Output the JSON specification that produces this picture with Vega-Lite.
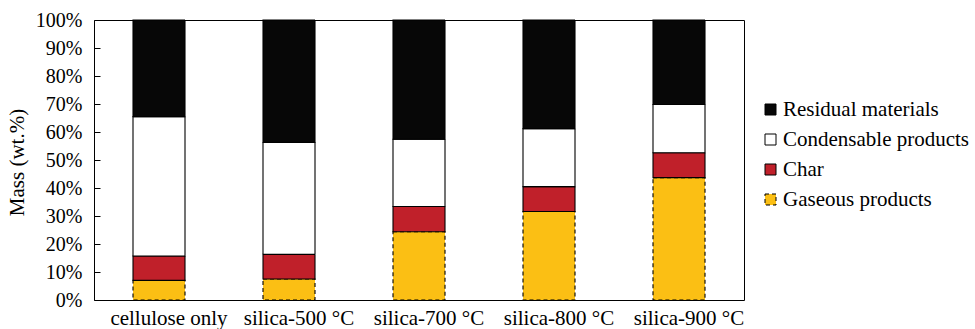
{
  "$schema": "https://vega.github.io/schema/vega-lite/v6.json",
  "width": 650,
  "height": 280,
  "autosize": {"type": "none"},
  "padding": {"left": 94, "top": 20, "right": 231, "bottom": 29},
  "background": "white",
  "config": {
    "view": {"stroke": "black", "strokeWidth": 1},
    "font": "Liberation Serif, Times New Roman, serif",
    "axis": {"labelFont": "Liberation Serif, Times New Roman, serif", "titleFont": "Liberation Serif, Times New Roman, serif"},
    "legend": {"labelFont": "Liberation Serif, Times New Roman, serif"}
  },
  "data": {
    "values": [
      {"sample": "cellulose only", "component": "Gaseous products", "mass": 7.0},
      {"sample": "cellulose only", "component": "Char", "mass": 8.7},
      {"sample": "cellulose only", "component": "Condensable products", "mass": 49.8},
      {"sample": "cellulose only", "component": "Residual materials", "mass": 34.5},
      {"sample": "silica-500 °C", "component": "Gaseous products", "mass": 7.5},
      {"sample": "silica-500 °C", "component": "Char", "mass": 8.8},
      {"sample": "silica-500 °C", "component": "Condensable products", "mass": 40.0},
      {"sample": "silica-500 °C", "component": "Residual materials", "mass": 43.7},
      {"sample": "silica-700 °C", "component": "Gaseous products", "mass": 24.4},
      {"sample": "silica-700 °C", "component": "Char", "mass": 9.0},
      {"sample": "silica-700 °C", "component": "Condensable products", "mass": 24.0},
      {"sample": "silica-700 °C", "component": "Residual materials", "mass": 42.6},
      {"sample": "silica-800 °C", "component": "Gaseous products", "mass": 31.6},
      {"sample": "silica-800 °C", "component": "Char", "mass": 8.9},
      {"sample": "silica-800 °C", "component": "Condensable products", "mass": 20.7},
      {"sample": "silica-800 °C", "component": "Residual materials", "mass": 38.8},
      {"sample": "silica-900 °C", "component": "Gaseous products", "mass": 43.7},
      {"sample": "silica-900 °C", "component": "Char", "mass": 8.9},
      {"sample": "silica-900 °C", "component": "Condensable products", "mass": 17.2},
      {"sample": "silica-900 °C", "component": "Residual materials", "mass": 30.2}
    ]
  },
  "transform": [
    {"calculate": "indexof(['Gaseous products', 'Char', 'Condensable products', 'Residual materials'], datum.component)", "as": "stackRank"}
  ],
  "mark": {"type": "bar", "stroke": "black", "strokeWidth": 1.1},
  "encoding": {
    "x": {
      "field": "sample",
      "type": "nominal",
      "sort": ["cellulose only", "silica-500 °C", "silica-700 °C", "silica-800 °C", "silica-900 °C"],
      "scale": {"paddingInner": 0.6, "paddingOuter": 0.3},
      "axis": {
        "title": null,
        "labelAngle": 0,
        "ticks": false,
        "domain": false,
        "labelFontSize": 21,
        "labelPadding": 7,
        "labelOffset": 10,
        "labelColor": "black",
        "labelLimit": 200
      }
    },
    "y": {
      "field": "mass",
      "type": "quantitative",
      "stack": "zero",
      "scale": {"domain": [0, 100], "nice": false},
      "axis": {
        "values": [0, 10, 20, 30, 40, 50, 60, 70, 80, 90, 100],
        "labelExpr": "datum.value + '%'",
        "grid": false,
        "domain": false,
        "tickSize": -6,
        "tickColor": "black",
        "labelPadding": 18,
        "labelFontSize": 20,
        "labelColor": "black",
        "title": "Mass (wt.%)",
        "titleFontSize": 21,
        "titleFontWeight": "normal",
        "titleColor": "black",
        "titleAngle": -90,
        "titleX": -77,
        "titleY": 142,
        "titleAlign": "center",
        "titleBaseline": "middle"
      }
    },
    "order": {"field": "stackRank", "type": "quantitative", "sort": "ascending"},
    "color": {
      "field": "component",
      "type": "nominal",
      "sort": ["Residual materials", "Condensable products", "Char", "Gaseous products"],
      "scale": {
        "domain": ["Residual materials", "Condensable products", "Char", "Gaseous products"],
        "range": ["#070707", "#ffffff", "#c0202a", "#fbbf14"]
      },
      "legend": {
        "title": null,
        "orient": "none",
        "legendX": 666,
        "legendY": 79,
        "padding": 0,
        "symbolType": "square",
        "symbolSize": 121,
        "symbolStrokeColor": "black",
        "symbolStrokeWidth": 1,
        "labelFontSize": 21,
        "labelColor": "black",
        "labelOffset": 2,
        "labelLimit": 300,
        "rowPadding": 8
      }
    },
    "strokeDash": {
      "field": "component",
      "type": "nominal",
      "sort": ["Residual materials", "Condensable products", "Char", "Gaseous products"],
      "scale": {
        "domain": ["Residual materials", "Condensable products", "Char", "Gaseous products"],
        "range": [[1, 0], [1, 0], [1, 0], [4, 3]]
      }
    }
  }
}
